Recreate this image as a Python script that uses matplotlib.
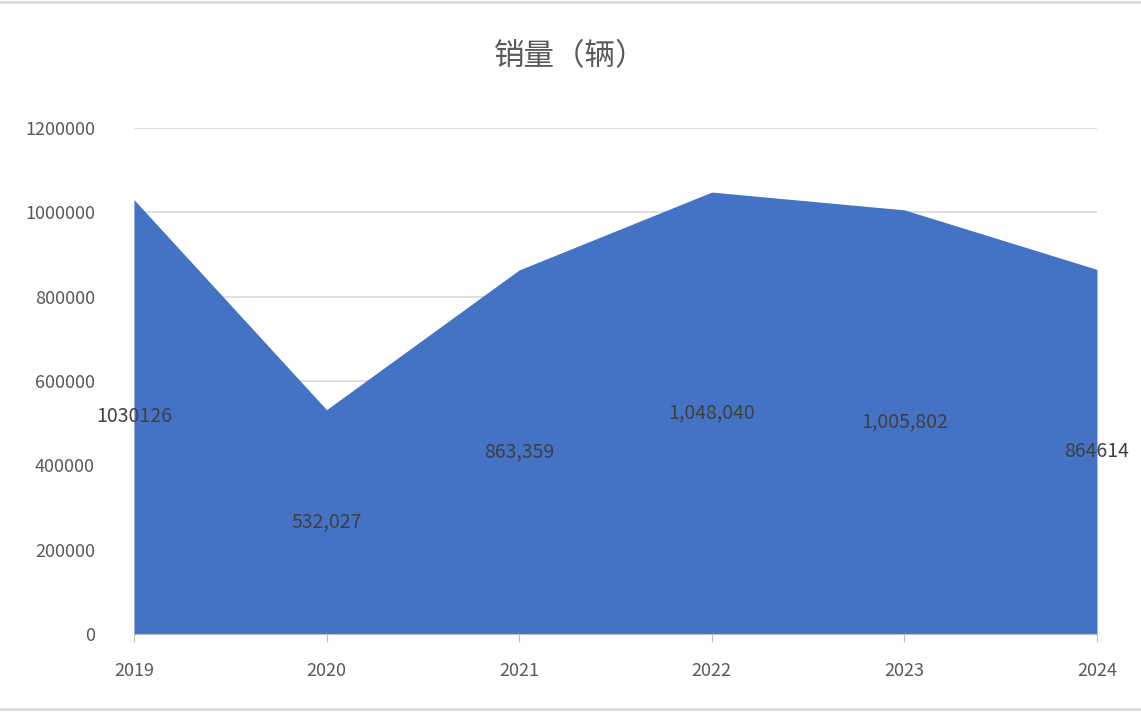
import matplotlib.pyplot as plt

plt.rcParams['font.family'] = ['Noto Sans CJK SC', 'DejaVu Sans']

years = ['2019', '2020', '2021', '2022', '2023', '2024']
sales = [1030126, 532027, 863359, 1048040, 1005802, 864614]
labels = ['1030126', '532,027', '863,359', '1,048,040', '1,005,802', '864614']

fig = plt.figure(figsize=(11.41, 7.13), dpi=100)
ax = fig.add_axes([0.1174, 0.1108, 0.8440, 0.7097])

x = range(len(years))
ax.fill_between(x, sales, 0, color='#4472C4', linewidth=0, zorder=2)
for i, (v, t) in enumerate(zip(sales, labels)):
    ax.text(i, v / 2, t, ha='center', va='center', fontsize=14, color='#404040', zorder=3)

ax.set_xlim(0, len(years) - 1)
ax.set_ylim(0, 1200000)
ax.set_yticks(range(0, 1200001, 200000))
ax.set_yticklabels([str(v) for v in range(0, 1200001, 200000)])
ax.set_xticks(list(x))
ax.set_xticklabels(years)
ax.grid(axis='y', color='#D9D9D9', linewidth=1.2, zorder=0)
for s in ['top', 'right', 'left']:
    ax.spines[s].set_visible(False)
ax.spines['bottom'].set_color('#BFBFBF')
ax.tick_params(axis='y', length=0, labelsize=13, labelcolor='#595959', pad=28)
ax.tick_params(axis='x', length=6, color='#BFBFBF', labelsize=13, labelcolor='#595959', pad=14)

fig.text(0.5, 0.92, '销量（辆）', ha='center', va='center', fontsize=22, color='#595959')
fig.add_artist(plt.Line2D([0, 1], [0.997, 0.997], color='#D9D9D9', linewidth=2))
fig.add_artist(plt.Line2D([0, 1], [0.005, 0.005], color='#D9D9D9', linewidth=2))

fig.savefig('out.png', dpi=100)
